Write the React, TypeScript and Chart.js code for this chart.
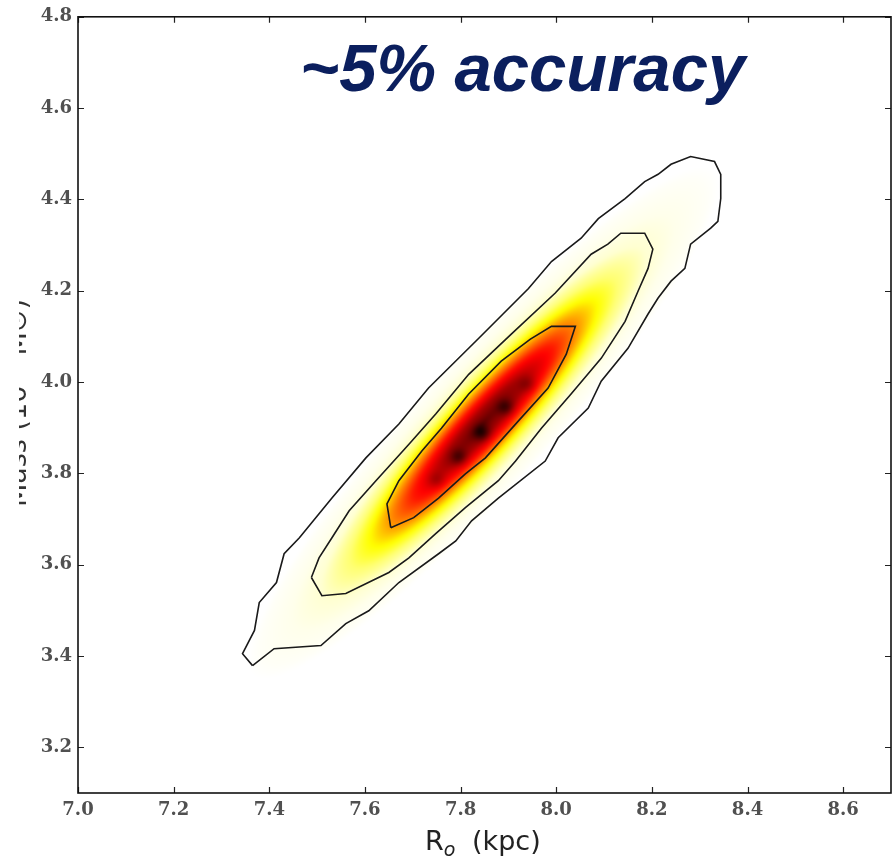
import React, { useEffect, useRef } from 'react';
import { Chart, registerables } from 'chart.js';

Chart.register(...registerables);

// ---- axes ----
const X_MIN = 7.0;
const X_MAX = 8.7;
const Y_MIN = 3.1;
const Y_MAX = 4.8;
const X_TICKS = [7.0, 7.2, 7.4, 7.6, 7.8, 8.0, 8.2, 8.4, 8.6];
const Y_TICKS = [3.2, 3.4, 3.6, 3.8, 4.0, 4.2, 4.4, 4.6, 4.8];

// ---- contour lines ----
const OUTER_X = [7.365, 7.344, 7.369, 7.379, 7.415, 7.431, 7.463, 7.531, 7.602, 7.671, 7.733, 7.838, 7.942, 7.990, 8.052, 8.088, 8.144, 8.185, 8.213, 8.240, 8.281, 8.331, 8.344, 8.344, 8.338, 8.323, 8.281, 8.269, 8.240, 8.213, 8.192, 8.150, 8.094, 8.067, 8.004, 7.977, 7.879, 7.823, 7.790, 7.754, 7.671, 7.608, 7.560, 7.508, 7.410, 7.365];
const OUTER_Y = [3.379, 3.405, 3.456, 3.517, 3.561, 3.624, 3.659, 3.746, 3.834, 3.908, 3.987, 4.096, 4.205, 4.264, 4.315, 4.358, 4.402, 4.439, 4.455, 4.477, 4.494, 4.483, 4.455, 4.402, 4.352, 4.337, 4.302, 4.249, 4.221, 4.184, 4.149, 4.074, 4.002, 3.943, 3.878, 3.827, 3.746, 3.696, 3.652, 3.624, 3.561, 3.499, 3.471, 3.423, 3.416, 3.379];

const MIDDLE_X = [7.488, 7.504, 7.531, 7.567, 7.623, 7.692, 7.748, 7.817, 7.906, 7.998, 8.073, 8.108, 8.135, 8.185, 8.202, 8.192, 8.171, 8.144, 8.094, 8.031, 7.969, 7.915, 7.879, 7.810, 7.748, 7.692, 7.650, 7.560, 7.510, 7.488];
const MIDDLE_Y = [3.572, 3.615, 3.659, 3.718, 3.784, 3.864, 3.930, 4.017, 4.105, 4.195, 4.280, 4.302, 4.326, 4.326, 4.291, 4.249, 4.199, 4.133, 4.052, 3.974, 3.899, 3.827, 3.784, 3.725, 3.668, 3.615, 3.583, 3.537, 3.532, 3.572];

const INNER_X = [7.654, 7.646, 7.671, 7.719, 7.760, 7.817, 7.885, 7.946, 7.990, 8.040, 8.021, 7.983, 7.921, 7.852, 7.810, 7.754, 7.702, 7.654];
const INNER_Y = [3.681, 3.733, 3.784, 3.849, 3.899, 3.974, 4.046, 4.094, 4.122, 4.122, 4.061, 3.987, 3.915, 3.834, 3.799, 3.746, 3.703, 3.681];

// ---- density model of the heat map ----
const PEAK_CENTER = [7.848, 3.91];
const PEAK_AXIS = [0.657, 0.754];
const PEAK_SIGMA = [0.198, 0.0373];
// relative density versus elliptical radius (in sigma units)
const PROFILE_R = [0, 0.6, 1.1, 1.5, 1.75, 2.1, 2.55, 3.0, 3.5, 3.7];
const PROFILE_D = [0.86, 0.76, 0.6, 0.4, 0.27, 0.14, 0.045, 0.02, 0.008, 0];
const SPOT_X = [7.75, 7.796, 7.844, 7.894, 7.94];
const SPOT_Y = [3.785, 3.836, 3.889, 3.945, 3.995];
const SPOT_W = [0.5, 0.85, 1.0, 0.85, 0.5];
const SPOT_SIGMA = 0.012;

const TITLE = '~5% accuracy';
const X_TITLE_MAIN = 'R';
const X_TITLE_SUB = 'o';
const X_TITLE_REST = '(kpc)';
const Y_TITLE = 'Mass (10¹⁰ M⊙)';

function profile(r: number): number {
  const n = PROFILE_R.length;
  if (r >= PROFILE_R[n - 1]) return 0;
  for (let k = 1; k < n; k++) {
    if (r <= PROFILE_R[k]) {
      const t = (r - PROFILE_R[k - 1]) / (PROFILE_R[k] - PROFILE_R[k - 1]);
      return PROFILE_D[k - 1] + t * (PROFILE_D[k] - PROFILE_D[k - 1]);
    }
  }
  return 0;
}

function density(vx: number, vy: number): number {
  const dx = vx - PEAK_CENTER[0];
  const dy = vy - PEAK_CENTER[1];
  const u = dx * PEAK_AXIS[0] + dy * PEAK_AXIS[1];
  const v = -dx * PEAK_AXIS[1] + dy * PEAK_AXIS[0];
  const r = Math.sqrt((u / PEAK_SIGMA[0]) ** 2 + (v / PEAK_SIGMA[1]) ** 2);
  let s = 0;
  for (let k = 0; k < SPOT_X.length; k++) {
    const ex = vx - SPOT_X[k];
    const ey = vy - SPOT_Y[k];
    s += SPOT_W[k] * Math.exp(-0.5 * (ex * ex + ey * ey) / (SPOT_SIGMA * SPOT_SIGMA));
  }
  return Math.min(1, profile(r) + 0.15 * s);
}

function hotR(d: number): [number, number, number] {
  const t = 1 - Math.max(0, Math.min(1, d));
  const clamp = (v: number) => Math.max(0, Math.min(1, v));
  const r = clamp(t / 0.365);
  const g = clamp((t - 0.365) / 0.381);
  const b = clamp((t - 0.746) / 0.254);
  return [r * 255, g * 255, b * 255];
}

const heatPlugin = {
  id: 'heat',
  beforeDatasetsDraw(chart: any) {
    const { ctx, chartArea: a, scales } = chart;
    const xs = scales.x;
    const ys = scales.y;
    const w = Math.round(a.right - a.left);
    const h = Math.round(a.bottom - a.top);
    const off = document.createElement('canvas');
    off.width = w;
    off.height = h;
    const octx = off.getContext('2d')!;
    const img = octx.createImageData(w, h);
    const xv = new Float32Array(w);
    for (let i = 0; i < w; i++) xv[i] = xs.getValueForPixel(a.left + i + 0.5);
    for (let j = 0; j < h; j++) {
      const vy = ys.getValueForPixel(a.top + j + 0.5);
      for (let i = 0; i < w; i++) {
        const [r, g, b] = hotR(density(xv[i], vy));
        const p = (j * w + i) * 4;
        img.data[p] = r;
        img.data[p + 1] = g;
        img.data[p + 2] = b;
        img.data[p + 3] = 255;
      }
    }
    octx.putImageData(img, 0, 0);
    ctx.save();
    ctx.filter = 'blur(1.5px)';
    ctx.drawImage(off, a.left, a.top);
    ctx.restore();
  },
};

const framePlugin = {
  id: 'frame',
  afterDraw(chart: any) {
    const { ctx, chartArea: a, scales } = chart;
    const xs = scales.x;
    const ys = scales.y;
    ctx.save();
    // inward ticks
    ctx.strokeStyle = '#222';
    ctx.lineWidth = 1.2;
    const tl = 6;
    ctx.beginPath();
    for (const v of X_TICKS) {
      const px = Math.round(xs.getPixelForValue(v)) + 0.5;
      ctx.moveTo(px, a.bottom);
      ctx.lineTo(px, a.bottom - tl);
      ctx.moveTo(px, a.top);
      ctx.lineTo(px, a.top + tl);
    }
    for (const v of Y_TICKS) {
      const py = Math.round(ys.getPixelForValue(v)) + 0.5;
      ctx.moveTo(a.left, py);
      ctx.lineTo(a.left + tl, py);
      ctx.moveTo(a.right, py);
      ctx.lineTo(a.right - tl, py);
    }
    ctx.stroke();
    // frame
    ctx.strokeStyle = '#111';
    ctx.lineWidth = 1.6;
    ctx.strokeRect(a.left, a.top, a.right - a.left, a.bottom - a.top);

    // overlay title
    ctx.fillStyle = '#0b1f5e';
    ctx.font = 'italic bold 67px "Liberation Sans", Arial, sans-serif';
    ctx.textAlign = 'left';
    ctx.textBaseline = 'alphabetic';
    ctx.fillText(TITLE, 300, 91);

    // x-axis title
    ctx.fillStyle = '#222';
    ctx.font = '27px "DejaVu Sans", sans-serif';
    ctx.fillText(X_TITLE_MAIN, 425, 850);
    const rw = ctx.measureText(X_TITLE_MAIN).width;
    ctx.font = 'italic 19px "DejaVu Sans", sans-serif';
    ctx.fillText(X_TITLE_SUB, 425 + rw, 856);
    ctx.font = '27px "DejaVu Sans", sans-serif';
    ctx.fillText(X_TITLE_REST, 472, 850);

    // y-axis title (mostly hidden at the left edge, as in the picture)
    ctx.beginPath();
    ctx.rect(19, 0, 30, chart.height);
    ctx.clip();
    ctx.translate(26, 403);
    ctx.rotate(-Math.PI / 2);
    ctx.textAlign = 'center';
    ctx.fillStyle = '#333';
    ctx.font = '27px "DejaVu Sans", sans-serif';
    ctx.fillText(Y_TITLE, 0, 0);
    ctx.restore();
  },
};

function line(xsArr: number[], ysArr: number[]) {
  return {
    data: xsArr.map((x, i) => ({ x, y: ysArr[i] })),
    showLine: true,
    borderColor: '#1a1a1a',
    borderWidth: 1.6,
    pointRadius: 0,
    fill: false,
    tension: 0,
  };
}

export default function App() {
  const ref = useRef<HTMLCanvasElement | null>(null);
  useEffect(() => {
    if (!ref.current) return;
    const tickFont = { family: '"DejaVu Serif", serif', size: 18, weight: 'bold' };
    const chart = new Chart(ref.current, {
      type: 'scatter',
      data: {
        datasets: [line(OUTER_X, OUTER_Y), line(MIDDLE_X, MIDDLE_Y), line(INNER_X, INNER_Y)] as any,
      },
      options: {
        responsive: false,
        animation: false,
        layout: { padding: { top: 16, right: 4, left: 0, bottom: 0 } },
        plugins: { legend: { display: false }, tooltip: { enabled: false } },
        scales: {
          x: {
            type: 'linear',
            min: X_MIN,
            max: X_MAX,
            grid: { display: false, drawTicks: false },
            border: { display: false },
            afterBuildTicks: (s: any) => {
              s.ticks = X_TICKS.map((v) => ({ value: v }));
            },
            afterFit: (s: any) => {
              s.height = 67;
            },
            ticks: {
              font: tickFont,
              color: '#505050',
              padding: 7,
              maxRotation: 0,
              autoSkip: false,
              callback: (v: any) => Number(v).toFixed(1),
            },
          },
          y: {
            type: 'linear',
            min: Y_MIN,
            max: Y_MAX,
            grid: { display: false, drawTicks: false },
            border: { display: false },
            afterBuildTicks: (s: any) => {
              s.ticks = Y_TICKS.map((v) => ({ value: v }));
            },
            afterFit: (s: any) => {
              s.width = 78;
            },
            ticks: {
              font: tickFont,
              color: '#505050',
              padding: 6,
              autoSkip: false,
              callback: (v: any) => Number(v).toFixed(1),
            },
          },
        },
      } as any,
      plugins: [heatPlugin, framePlugin],
    });
    return () => chart.destroy();
  }, []);
  return (
    <div style={{ position: 'fixed', left: 0, top: 0, width: 895, height: 860, background: '#fff' }}>
      <canvas ref={ref} width={895} height={860} style={{ display: 'block' }} />
    </div>
  );
}
